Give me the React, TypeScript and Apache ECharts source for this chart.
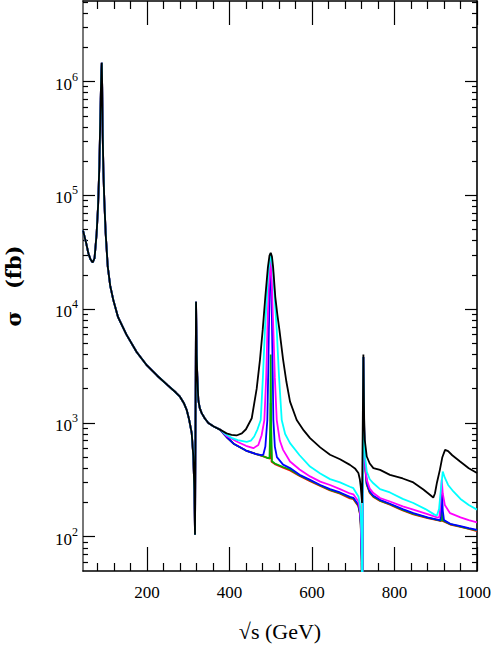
import React, { useEffect, useRef } from "react";
import * as echarts from "echarts";

// ---- axis ranges & ticks ----
const xMin = 45;
const xMax = 1000;
const yMin = 50;
const yMax = 5.1e6;
const xMajorTicks = [200, 400, 600, 800, 1000];
const xMinorTicks = [80, 120, 160, 240, 280, 320, 360, 440, 480, 520, 560, 640, 680, 720, 760, 840, 880, 920, 960];
const yMajorTicks = [100, 1000, 10000, 100000, 1000000];
const yMinorTicks = [
  60, 70, 80, 90,
  200, 300, 400, 500, 600, 700, 800, 900,
  2000, 3000, 4000, 5000, 6000, 7000, 8000, 9000,
  20000, 30000, 40000, 50000, 60000, 70000, 80000, 90000,
  200000, 300000, 400000, 500000, 600000, 700000, 800000, 900000,
  2000000, 3000000, 4000000, 5000000,
];

// ---- shared low-energy part (all curves coincide), [sqrt(s) GeV, sigma fb] ----
const sharedLow: [number, number][] = [
  [45, 4.9e4], [52, 3.9e4], [58, 3.1e4], [63, 2.75e4], [68.5, 2.57e4], [73, 2.8e4],
  [78, 4.6e4], [81.5, 8.0e4], [84.6, 1.8e5], [87.9, 6.9e5], [89.5, 1.25e6], [90.5, 1.46e6],
  [91.5, 9.0e5], [92.7, 3.5e5], [94.5, 1.6e5], [96.6, 9.1e4], [100, 4.6e4], [105, 2.36e4],
  [111, 1.6e4], [118.5, 1.2e4], [130, 8.5e3], [150, 6.0e3], [175, 4.2e3], [200, 3.2e3],
  [225, 2.6e3], [250, 2.15e3], [270, 1.85e3], [280, 1.7e3], [290, 1.48e3], [296.4, 1.3e3],
  [302, 1.08e3], [308.5, 815], [312.4, 507], [315, 258], [316.5, 104], [319, 1.16e4],
  [320.5, 4.0e3], [322, 2.6e3], [324.5, 1.59e3], [328, 1.35e3], [332.7, 1.22e3],
  [340, 1.1e3], [348.8, 1.0e3], [362, 930], [377, 873],
];

// ---- per-curve high-energy parts ----
const blackHigh: [number, number][] = [
  [393, 810], [405, 785], [417, 776], [430, 810], [440, 880], [454, 1.1e3], [466, 2.0e3],
  [474, 3.6e3], [480.6, 6.6e3], [487, 1.29e4], [493, 2.3e4], [497, 2.95e4], [500, 3.13e4],
  [503, 2.9e4], [506, 2.3e4], [511, 1.29e4], [516, 9.0e3], [521, 6.6e3], [530, 3.6e3],
  [538, 2.3e3], [546.8, 1.54e3], [563, 1.06e3], [580, 860], [595.3, 736], [620, 610],
  [643.8, 525], [668, 480], [692, 428], [705, 395], [712.5, 363], [716, 320], [718.2, 276],
  [721.4, 198], [724.6, 4.0e3], [726.5, 1.1e3], [728, 708], [732.8, 507], [740, 440],
  [748.8, 401], [765, 387], [789, 350], [820, 325], [845.7, 300], [870, 260], [885, 235],
  [894, 221], [898, 240], [903, 300], [910, 387], [916, 500], [922.6, 580], [930, 565],
  [940, 520], [959, 458], [980, 400], [1000, 363],
];
const cyanHigh: [number, number][] = [
  [390, 800], [405, 740], [420, 705], [441.8, 682], [452, 700], [460, 760], [468, 880],
  [475.8, 1.06e3], [481, 2.5e3], [486, 6.6e3], [490, 1.2e4], [494, 2.1e4], [500, 3.1e4],
  [506, 2.1e4], [510, 1.2e4], [514.6, 6.6e3], [520, 2.6e3], [526.7, 1.06e3], [535, 800],
  [546.8, 665], [570, 520], [595.3, 414], [620, 360], [643.8, 321], [668, 300], [692, 275],
  [700.3, 267], [712.5, 226], [716, 195], [718.2, 161], [720.6, 94], [722, 20],
  [724.6, 3.8e3], [726.5, 900], [728.6, 507], [732.8, 374], [740, 320], [748.8, 295],
  [765, 262], [789, 245], [820, 215], [845.7, 198], [875, 175], [895, 158], [902.5, 153],
  [908, 175], [912, 250], [917, 374], [922, 330], [930, 285], [942.7, 250], [960, 215],
  [980, 190], [1000, 173],
];
const magentaHigh: [number, number][] = [
  [393, 770], [420, 680], [440, 630], [458, 600], [470, 640], [478, 780], [484.6, 1.06e3],
  [489, 2.5e3], [492, 6.6e3], [495, 1.5e4], [500, 2.9e4], [503, 1.5e4], [506.4, 6.6e3],
  [510, 2.5e3], [514.6, 1.06e3], [522, 700], [530, 580], [546.8, 458], [570, 390],
  [595.3, 339], [620, 305], [643.8, 285], [668, 262], [692, 240], [700.3, 236], [712.5, 204],
  [716, 175], [718.2, 141], [720.6, 72], [722, 20], [724.6, 3.8e3], [726.5, 900], [729, 414],
  [732.8, 316], [740, 265], [748.8, 242], [765, 219], [789, 204], [820, 185], [845.7, 173],
  [880, 158], [905, 147], [909, 150], [912, 220], [914.5, 316], [917, 240], [922, 190],
  [934.7, 161], [960, 148], [980, 140], [1000, 134],
];
const blueHigh: [number, number][] = [
  [393, 752], [410, 657], [440, 572], [465, 532], [478, 522], [482, 526], [487, 620], [491.8, 1.06e3],
  [494, 2.8e3], [495.5, 6.6e3], [498, 1.7e4], [500, 2.7e4], [502, 1.5e4], [503.3, 6.6e3],
  [505, 2.5e3], [506.4, 1.06e3], [510, 620], [515, 500], [530, 430], [546.8, 401],
  [570, 350], [595.3, 316], [620, 285], [643.8, 262], [668, 245], [692, 224], [700.3, 220],
  [712.5, 191], [716, 165], [718.2, 132], [720.6, 62], [722, 20], [724.6, 3.8e3],
  [726.5, 850], [728.6, 450], [732.8, 295], [740, 250], [748.8, 229], [765, 211], [789, 195],
  [820, 175], [845.7, 161], [880, 148], [906, 141], [911, 139], [913, 170], [915, 260],
  [917, 170], [920, 140], [935, 130], [960, 124], [980, 119], [1000, 115],
];
const greenHigh: [number, number][] = [
  [393, 752], [410, 657], [440, 572], [465, 532], [482, 510], [492, 492], [497, 490],
  [499, 1.0e3], [500, 4.0e3], [501, 1.0e3], [503, 460], [510, 440], [530, 410],
  [546.8, 390], [570, 345], [595.3, 312], [620, 282], [643.8, 258], [668, 242], [692, 221],
  [700.3, 217], [712.5, 188], [716, 162], [718.2, 129], [720.6, 60], [722, 20],
  [724.6, 3.8e3], [726.5, 800], [728.6, 430], [732.8, 290], [740, 246], [748.8, 226],
  [765, 208], [789, 193], [820, 172], [845.7, 159], [880, 147], [906, 140], [913, 138],
  [914.5, 175], [916, 140], [935, 129], [960, 123], [980, 118], [1000, 114],
];
const redHigh: [number, number][] = [
  [393, 752], [410, 657], [440, 572], [465, 532], [482, 508], [494, 490], [498, 485],
  [499.3, 700], [500, 1.5e3], [500.7, 700], [502, 455], [510, 435], [530, 405],
  [546.8, 382], [570, 342], [595.3, 308], [620, 279], [643.8, 255], [668, 239], [692, 217],
  [700.3, 214], [712.5, 185], [716, 160], [718.2, 125], [720.6, 58], [722, 20],
  [724.6, 3.8e3], [726.5, 780], [728.6, 420], [732.8, 287], [740, 243], [748.8, 224],
  [765, 206], [789, 191], [820, 170], [845.7, 157], [880, 146], [906, 139], [913.5, 137],
  [915, 152], [916.5, 138], [935, 128], [960, 122], [980, 117], [1000, 112],
];

const curves = [
  { name: "red", color: "#ff0000", high: redHigh },
  { name: "green", color: "#00b000", high: greenHigh },
  { name: "blue", color: "#0000ff", high: blueHigh },
  { name: "magenta", color: "#ff00ff", high: magentaHigh },
  { name: "cyan", color: "#00ffff", high: cyanHigh },
  { name: "black", color: "#000000", high: blackHigh },
];

const numFont = '"Liberation Serif", "DejaVu Serif", serif';

export default function App() {
  const ref = useRef<HTMLDivElement>(null);
  useEffect(() => {
    document.body.style.margin = "0";
    if (!ref.current) return;
    const chart = echarts.init(ref.current, undefined, { renderer: "svg" });

    const frame = { lineStyle: { color: "#000", width: 1.6 } };
    const xBase = (position: "top" | "bottom", major: boolean, showLine: boolean, showLabel: boolean, extra: any = {}) => ({
      type: "value",
      min: xMin,
      max: xMax,
      position,
      axisLine: { show: showLine, onZero: false, ...frame },
      axisTick: {
        show: true,
        inside: true,
        length: major ? 24 : 8,
        customValues: major ? xMajorTicks : xMinorTicks,
        lineStyle: { color: "#000", width: 1.2 },
      },
      axisLabel: {
        show: showLabel,
        customValues: xMajorTicks,
        margin: 13,
        color: "#000",
        fontSize: 17,
        fontFamily: numFont,
        formatter: (v: number) => (v === xMax ? `{r|${v}}` : `${v}`),
        rich: {
          r: { fontSize: 17, fontFamily: numFont, color: "#000", padding: [0, 6, 0, 0] },
        },
      },
      splitLine: { show: false },
      ...extra,
    });
    const yBase = (position: "left" | "right", major: boolean, showLine: boolean, showLabel: boolean, extra: any = {}) => ({
      type: "log",
      logBase: 10,
      min: yMin,
      max: yMax,
      position,
      axisLine: {
        show: showLine,
        onZero: false,
        lineStyle: { color: position === "left" ? "#555" : "#000", width: 1.6 },
      },
      axisTick: {
        show: true,
        inside: true,
        length: major ? 12 : 5,
        customValues: major ? yMajorTicks : yMinorTicks,
        lineStyle: { color: "#000", width: 1.2 },
      },
      axisLabel: {
        show: showLabel,
        customValues: yMajorTicks,
        margin: 5,
        formatter: (v: number) => `{b|10}{s|${Math.round(Math.log10(v))}}`,
        rich: {
          b: { fontSize: 17, fontFamily: numFont, color: "#000", lineHeight: 22, verticalAlign: "bottom" },
          s: { fontSize: 12, fontFamily: numFont, color: "#000", lineHeight: 22, verticalAlign: "top" },
        },
      },
      splitLine: { show: false },
      ...extra,
    });

    const option: any = {
      animation: false,
      backgroundColor: "#fff",
      grid: { left: 83, right: 14, top: 1, bottom: 83, containLabel: false, outerBoundsMode: "none" },
      xAxis: [
        xBase("bottom", true, true, true, {
          name: "√s (GeV)",
          nameLocation: "middle",
          nameGap: 49,
          nameTextStyle: { fontSize: 22, fontFamily: numFont, color: "#000" },
        }),
        xBase("bottom", false, false, false),
        xBase("top", true, true, false),
        xBase("top", false, false, false),
      ],
      yAxis: [
        yBase("left", true, true, true, {
          name: "σ   (fb)",
          nameLocation: "middle",
          nameRotate: 90,
          nameGap: 59,
          nameTextStyle: { fontSize: 21, fontWeight: "bold", fontFamily: '"DejaVu Serif", serif', color: "#000" },
        }),
        yBase("left", false, false, false),
        yBase("right", true, true, false),
        yBase("right", false, false, false),
      ],
      series: curves.map((c, i) => ({
        name: c.name,
        type: "line",
        xAxisIndex: 0,
        yAxisIndex: 0,
        data: [...sharedLow, ...c.high],
        showSymbol: false,
        symbol: "none",
        clip: true,
        z: 2 + i,
        lineStyle: { color: c.color, width: 1.8 },
        emphasis: { disabled: true },
      })),
    };
    chart.setOption(option);
    return () => chart.dispose();
  }, []);
  return <div ref={ref} style={{ width: 491, height: 654 }} />;
}
